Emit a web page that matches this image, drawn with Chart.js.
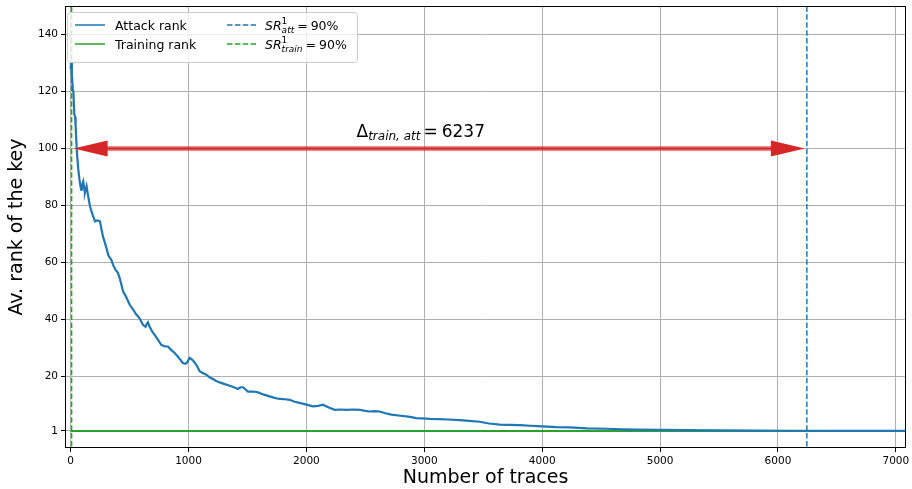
<!DOCTYPE html>
<html>
<head>
<meta charset="utf-8">
<script src="https://cdn.jsdelivr.net/npm/chart.js@4.4.1/dist/chart.umd.min.js"></script>
<style>
  body { margin: 0; background: #fff; }
  #wrap { width: 912px; height: 489px; }
</style>
</head>
<body>
<div id="wrap"><canvas id="rankChart" width="912" height="489"></canvas></div>
<script>
// nilai
const attackX = [0, 3, 10, 18, 23, 31, 38, 42, 51, 58, 65, 75, 88, 95, 107, 115, 121, 135, 150, 164,
  180, 206, 225, 249, 260, 274, 290, 303, 320, 345, 359, 380, 400, 416, 444, 470, 500, 530, 557, 585,
  613, 635, 645, 656, 670, 690, 712, 740, 768, 800, 825, 850, 882, 910, 952, 975, 986, 1009, 1030, 1052,
  1075, 1094, 1120, 1151, 1180, 1207, 1235, 1264, 1300, 1349, 1390, 1419, 1440, 1462, 1504, 1550, 1589, 1640, 1688, 1730,
  1773, 1820, 1858, 1900, 1942, 2000, 2055, 2100, 2140, 2190, 2239, 2290, 2338, 2400, 2451, 2500, 2536, 2580, 2621, 2670,
  2720, 2780, 2847, 2890, 2932, 2980, 3045, 3130, 3200, 3299, 3380, 3469, 3550, 3639, 3720, 3808, 3900, 4000, 4120, 4233,
  4380, 4544, 4680, 4799, 5000, 5226, 5509, 5800, 6100, 6500, 7100];
const attackY = [128, 130, 126, 121, 120, 112, 111, 108, 100, 96, 92.6, 89, 85.6, 87, 88.5, 86, 84.5, 86.8, 83, 79.8,
  77.5, 74.5, 74.8, 74.5, 72, 69.2, 67, 65.2, 62.5, 61, 59.3, 57.5, 56.5, 54.6, 50, 48, 45.3, 43.5, 41.8, 40.5,
  38.2, 37.5, 38.5, 39.1, 37.5, 36, 34.7, 33, 31.2, 30.6, 30.6, 29.5, 28.3, 27, 24.8, 24.5, 24.9, 26.6, 26, 25,
  23.5, 21.9, 21.3, 20.7, 19.7, 19.2, 18.5, 18.0, 17.5, 16.8, 16.2, 15.7, 16.3, 16.3, 14.8, 14.8, 14.5, 13.7, 13.1, 12.6,
  12.2, 12.1, 11.9, 11.2, 10.8, 10.2, 9.6, 9.8, 10.2, 9.2, 8.4, 8.5, 8.4, 8.5, 8.4, 8.0, 7.8, 7.9, 7.8, 7.2,
  6.7, 6.4, 6.1, 5.8, 5.5, 5.4, 5.2, 5.1, 5.0, 4.8, 4.5, 4.2, 3.6, 3.2, 3.1, 3.0, 2.8, 2.6, 2.3, 2.2,
  1.9, 1.75, 1.55, 1.45, 1.35, 1.25, 1.2, 1.1, 1.05, 1.02, 1.0];
const trainX = [0, 7100];
const trainY = [1, 1];
const srTrain = 8;      // SR^1_train = 90%
const srAtt = 6245;     // SR^1_att = 90%
const deltaLabel = '6237';
const xTicks = [0, 1000, 2000, 3000, 4000, 5000, 6000, 7000];
const yTicks = [1, 20, 40, 60, 80, 100, 120, 140];

const BLUE = '#1f77b4';
const GREEN = '#2ca02c';
const RED = '#d62728';
const FONT = '"DejaVu Sans", sans-serif';

function toPoints(xs, ys) {
  return xs.map((x, i) => ({ x: x, y: ys[i] }));
}

// tulis teks dengan sub/superscript (pengganti mathtext)
function drawRuns(ctx, x, y, runs) {
  let cx = x, supX = x;
  runs.forEach(r => {
    ctx.font = (r.italic ? 'italic ' : '') + r.size + 'px ' + FONT;
    if (r.under) cx = supX;      // subscript di bawah superscript
    if (r.sup) supX = cx;
    ctx.fillText(r.t, cx, y + (r.dy || 0));
    cx += ctx.measureText(r.t).width + (r.gap || 0);
  });
  return cx;
}

const extras = {
  id: 'extras',
  afterDatasetsDraw(chart) {
    const ctx = chart.ctx;
    const xs = chart.scales.x, ys = chart.scales.y;
    const yc = ys.getPixelForValue(100);
    const xl = xs.getPixelForValue(srTrain) + 2;
    const xr = xs.getPixelForValue(srAtt) - 2;
    const headL = 34, headH = 8;
    ctx.save();
    // batang panah
    ctx.fillStyle = 'rgba(214,39,40,0.55)';
    ctx.fillRect(xl + headL - 2, yc - 2.5, xr - xl - 2 * headL + 4, 5);
    ctx.strokeStyle = RED;
    ctx.lineWidth = 2;
    ctx.beginPath();
    ctx.moveTo(xl + headL - 2, yc);
    ctx.lineTo(xr - headL + 2, yc);
    ctx.stroke();
    // kepala panah
    ctx.fillStyle = RED;
    ctx.beginPath();
    ctx.moveTo(xl, yc);
    ctx.lineTo(xl + headL, yc - headH);
    ctx.lineTo(xl + headL, yc + headH);
    ctx.closePath();
    ctx.fill();
    ctx.beginPath();
    ctx.moveTo(xr, yc);
    ctx.lineTo(xr - headL, yc - headH);
    ctx.lineTo(xr - headL, yc + headH);
    ctx.closePath();
    ctx.fill();

    // label delta
    ctx.fillStyle = '#000';
    ctx.textBaseline = 'alphabetic';
    const tx = xs.getPixelForValue(2425);
    const ty = ys.getPixelForValue(104.1);
    drawRuns(ctx, tx, ty, [
      { t: '\u0394', size: 17 },
      { t: 'train, att', size: 12, italic: true, dy: 3.5, gap: 3 },
      { t: '=', size: 17, gap: 4 },
      { t: deltaLabel, size: 17 }
    ]);
    ctx.restore();
  },
  afterDraw(chart) {
    const ctx = chart.ctx;
    const a = chart.chartArea;
    ctx.save();
    // bingkai plot
    ctx.strokeStyle = '#000';
    ctx.lineWidth = 1;
    ctx.strokeRect(Math.round(a.left) + 0.5, Math.round(a.top) + 0.5,
      Math.round(a.right - a.left) - 1, Math.round(a.bottom - a.top) - 1);

    // legenda
    const bx = 67, by = 12, bw = 290, bh = 50, rr = 3;
    ctx.fillStyle = 'rgba(255,255,255,0.8)';
    ctx.strokeStyle = '#cccccc';
    ctx.beginPath();
    ctx.roundRect(bx + 0.5, by + 0.5, bw, bh, rr);
    ctx.fill();
    ctx.stroke();

    const rows = [25, 44];
    const handles = [
      { x0: 75, x1: 105, y: rows[0], c: BLUE, dash: [] },
      { x0: 75, x1: 105, y: rows[1], c: GREEN, dash: [] },
      { x0: 227, x1: 256, y: rows[0], c: BLUE, dash: [5.5, 2.4] },
      { x0: 227, x1: 256, y: rows[1], c: GREEN, dash: [5.5, 2.4] }
    ];
    handles.forEach(h => {
      ctx.strokeStyle = h.c;
      ctx.lineWidth = 1.5;
      ctx.setLineDash(h.dash);
      ctx.beginPath();
      ctx.moveTo(h.x0, h.y);
      ctx.lineTo(h.x1, h.y);
      ctx.stroke();
    });
    ctx.setLineDash([]);
    ctx.fillStyle = '#000';
    ctx.textBaseline = 'alphabetic';
    ctx.font = '12.5px ' + FONT;
    ctx.fillText('Attack rank', 115, rows[0] + 4.5);
    ctx.fillText('Training rank', 115, rows[1] + 4.5);

    drawRuns(ctx, 265, rows[0] + 4.5, [
      { t: 'SR', size: 12.5, italic: true },
      { t: '1', size: 9, dy: -5.5, sup: true },
      { t: 'att', size: 9, italic: true, dy: 3, gap: 3, under: true },
      { t: '=', size: 12.5, gap: 3 },
      { t: '90%', size: 12.5 }
    ]);
    drawRuns(ctx, 265, rows[1] + 4.5, [
      { t: 'SR', size: 12.5, italic: true },
      { t: '1', size: 9, dy: -5.5, sup: true },
      { t: 'train', size: 9, italic: true, dy: 3, gap: 3, under: true },
      { t: '=', size: 12.5, gap: 3 },
      { t: '90%', size: 12.5 }
    ]);
    ctx.restore();
  }
};

const ctx = document.getElementById('rankChart').getContext('2d');
const rankChart = new Chart(ctx, {
  type: 'line',
  data: {
    datasets: [
      {
        label: 'Attack rank',
        data: toPoints(attackX, attackY),
        borderColor: BLUE,
        borderWidth: 2.2,
        pointRadius: 0,
        tension: 0
      },
      {
        label: 'Training rank',
        data: toPoints(trainX, trainY),
        borderColor: GREEN,
        borderWidth: 2,
        pointRadius: 0
      },
      {
        label: 'SR att',
        data: [{ x: srAtt, y: -10 }, { x: srAtt, y: 160 }],
        borderColor: BLUE,
        borderWidth: 1.5,
        borderDash: [5.5, 2.4],
        pointRadius: 0
      },
      {
        label: 'SR train',
        data: [{ x: srTrain, y: -10 }, { x: srTrain, y: 160 }],
        borderColor: GREEN,
        borderWidth: 1.5,
        borderDash: [5.5, 2.4],
        pointRadius: 0
      }
    ]
  },
  options: {
    responsive: false,
    animation: false,
    devicePixelRatio: 1,
    layout: { padding: { top: 6, right: 6, left: 0, bottom: 0 } },
    plugins: {
      legend: { display: false },
      tooltip: { enabled: false }
    },
    scales: {
      x: {
        type: 'linear',
        min: -48,
        max: 7086,
        afterBuildTicks: s => { s.ticks = xTicks.map(v => ({ value: v })); },
        afterFit: s => { s.height = 41; s.paddingLeft = 0; s.paddingRight = 0; },
        grid: { color: '#b0b0b0', lineWidth: 1, tickColor: '#000', tickLength: 4 },
        border: { display: false },
        ticks: { color: '#000', font: { family: FONT, size: 10.5 }, padding: 3, maxRotation: 0, callback: v => String(v) },
        title: { display: true, text: 'Number of traces', color: '#000', font: { family: FONT, size: 19 }, padding: { top: 2, bottom: 0 } }
      },
      y: {
        type: 'linear',
        min: -5,
        max: 150,
        afterBuildTicks: s => { s.ticks = yTicks.map(v => ({ value: v })); },
        afterFit: s => { s.width = 65; s.paddingTop = 0; s.paddingBottom = 0; },
        grid: { color: '#b0b0b0', lineWidth: 1, tickColor: '#000', tickLength: 4 },
        border: { display: false },
        ticks: { color: '#000', font: { family: FONT, size: 10.5 }, padding: 3, callback: v => String(v) },
        title: { display: true, text: 'Av. rank of the key', color: '#000', font: { family: FONT, size: 19 }, padding: { top: 6, bottom: 0 } }
      }
    }
  },
  plugins: [extras]
});
</script>
</body>
</html>
